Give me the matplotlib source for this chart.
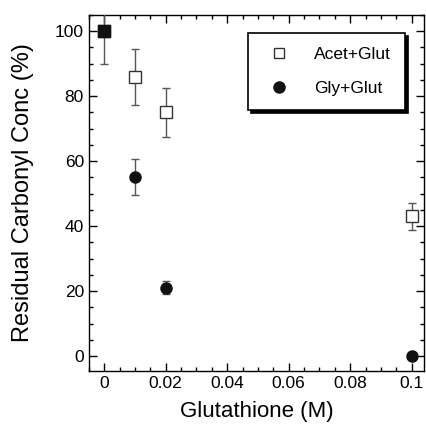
import numpy as np
import matplotlib
matplotlib.use('Agg')
import matplotlib.pyplot as plt
from matplotlib.ticker import MultipleLocator
from matplotlib.lines import Line2D

plt.rcParams['font.family'] = ['Liberation Sans', 'DejaVu Sans']

# data
glut = [0, 0.01, 0.02, 0.1]
acet = [100, 86, 75, 43]
acet_err = [10, 8.6, 7.5, 4.2]
gly = [100, 55, 21, 0]
gly_err = [0, 5.5, 2, 0]
labels = ['Acet+Glut', 'Gly+Glut']

fig = plt.figure(figsize=(4.27, 4.25), dpi=100)
ax = fig.add_axes([0.208, 0.127, 0.785, 0.838])

ax.errorbar(glut, acet, yerr=acet_err, fmt='s', ms=8, mfc='white', mec='#333333',
            mew=1, ecolor='#555555', elinewidth=1, capsize=3, zorder=3)
ax.errorbar(glut, gly, yerr=gly_err, fmt='o', ms=8, mfc='#111111', mec='#111111',
            ecolor='#555555', elinewidth=1, capsize=3, zorder=4)
# overlapping point at 0 drawn as filled square
ax.plot(glut[0], acet[0], 's', ms=9, color='#111111', zorder=5)

ax.set_xlim(-0.005, 0.104)
ax.set_ylim(-4.6, 105)
ax.set_xticks([0, 0.02, 0.04, 0.06, 0.08, 0.1])
ax.set_xticklabels(['0', '0.02', '0.04', '0.06', '0.08', '0.1'])
ax.set_yticks([0, 20, 40, 60, 80, 100])
ax.xaxis.set_minor_locator(MultipleLocator(0.005))
ax.yaxis.set_minor_locator(MultipleLocator(5))
ax.tick_params(which='both', direction='in', top=True, right=True, labelsize=12.5, width=1)
ax.tick_params(which='major', length=6)
ax.tick_params(which='minor', length=3)
for s in ax.spines.values():
    s.set_linewidth(1)

ax.set_xlabel('Glutathione (M)', fontsize=16, labelpad=7)
ax.set_ylabel('Residual Carbonyl Conc (%)', fontsize=17, labelpad=15)

h = [Line2D([], [], ls='', marker='s', ms=7, mfc='white', mec='#333333'),
     Line2D([], [], ls='', marker='o', ms=8, mfc='#111111', mec='#111111')]
leg = ax.legend(h, labels, loc='upper right', bbox_to_anchor=(0.943, 0.949), fontsize=12.5,
                frameon=True, fancybox=False, edgecolor='black', labelspacing=1.1,
                borderpad=0.8, handletextpad=1.0, borderaxespad=0,
                shadow={'color': 'black', 'alpha': 1, 'ox': 2.2, 'oy': -2.2})
leg.get_frame().set_linewidth(1.2)

fig.savefig('out.png', dpi=100)
